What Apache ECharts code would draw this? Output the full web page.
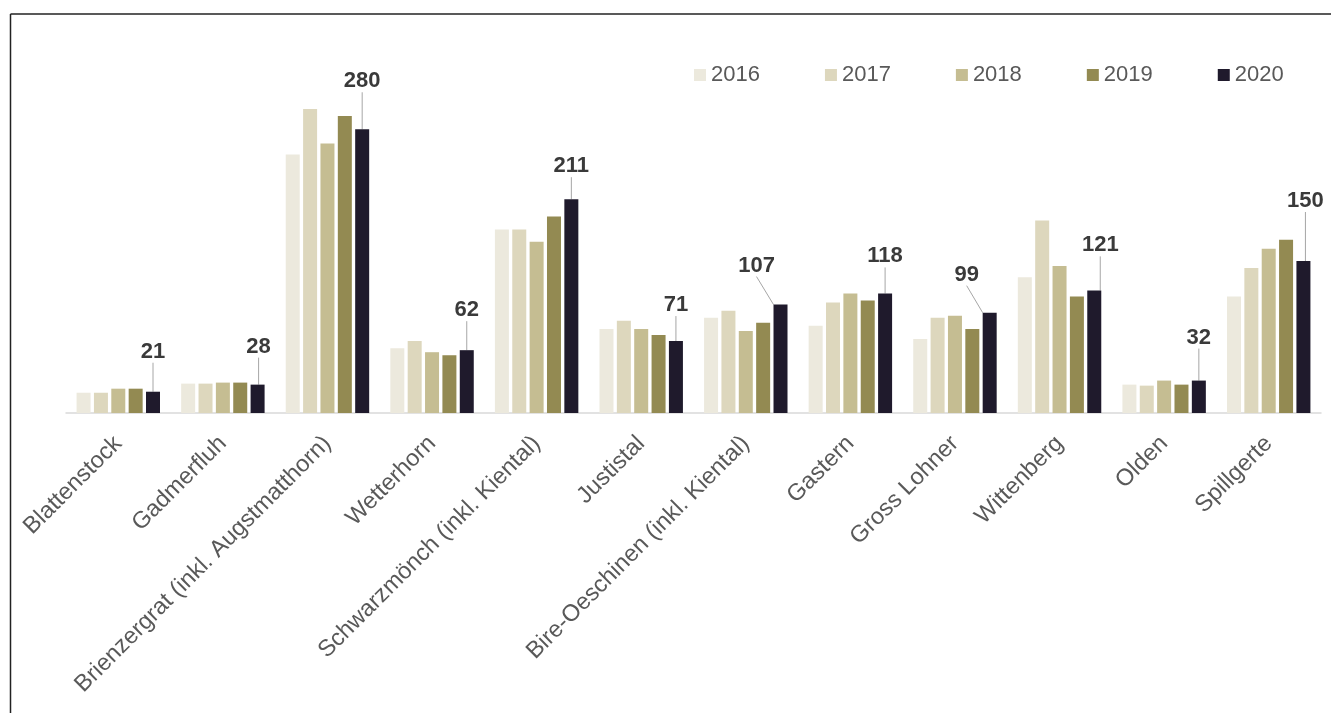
<!DOCTYPE html>
<html>
<head>
<meta charset="utf-8">
<script src="https://cdn.jsdelivr.net/npm/echarts@6/dist/echarts.min.js"></script>
<style>
html,body{margin:0;padding:0;background:#fff;}
#chart{width:1331px;height:713px;}
</style>
</head>
<body>
<div id="chart"></div>
<script>
const categories = ["Blattenstock","Gadmerfluh","Brienzergrat (inkl. Augstmatthorn)","Wetterhorn","Schwarzmönch (inkl. Kiental)","Justistal","Bire-Oeschinen (inkl. Kiental)","Gastern","Gross Lohner","Wittenberg","Olden","Spillgerte"];
const years = ["2016","2017","2018","2019","2020"];
const v2016 = [20, 29, 255, 64, 181, 83, 94, 86, 73, 134, 28, 115];
const v2017 = [20, 29, 301, 71, 181, 91, 101, 109, 94, 190, 27, 143];
const v2018 = [24, 30, 266, 60, 169, 83, 81, 118, 96, 145, 32, 162];
const v2019 = [24, 30, 293, 57, 194, 77, 89, 111, 83, 115, 28, 171];
const v2020 = [21, 28, 280, 62, 211, 71, 107, 118, 99, 121, 32, 150];

const colors = ["#ece9dd","#ddd7bd","#c5bd92","#938a52","#1f1a2c"];
// label offsets (layout only)
const labelShift = [[0,-24],[1,-22],[0,-32],[0,-24],[0,-17],[0,-20],[-24,-23],[0,-21],[-23,-22],[6,-29],[0,-27],[2,-44]];

const seriesValues = [v2016, v2017, v2018, v2019, v2020];
const chart = echarts.init(document.getElementById('chart'));
const series = seriesValues.map((vals, i) => {
  const s = {
    name: years[i],
    type: 'bar',
    data: vals,
    barWidth: 14,
    barGap: '24%',
    itemStyle: { color: colors[i] },
    emphasis: { disabled: true }
  };
  if (i === 4) {
    s.label = {
      show: true, position: 'top', distance: 5,
      fontFamily: 'Liberation Sans, Arial, sans-serif',
      fontSize: 22, fontWeight: 'bold', color: '#3a3a3a'
    };
    s.labelLine = { show: true, lineStyle: { color: '#a6a6a6', width: 1 } };
    s.labelLayout = function (p) {
      const sh = labelShift[p.dataIndex];
      return { dx: sh[0], dy: sh[1] };
    };
  }
  return s;
});

chart.setOption({
  animation: false,
  backgroundColor: '#fff',
  textStyle: { fontFamily: 'Liberation Sans, Arial, sans-serif' },
  legend: {
    data: years,
    top: 59,
    left: 689,
    itemWidth: 12,
    itemHeight: 12,
    itemGap: 65,
    icon: 'rect',
    textStyle: { fontSize: 22, color: '#595959', fontFamily: 'Liberation Sans, Arial, sans-serif' }
  },
  grid: { left: 66, right: 10, top: 109, bottom: 300, containLabel: false, outerBoundsMode: 'none' },
  xAxis: {
    type: 'category',
    data: categories,
    axisTick: { show: false },
    axisLine: { lineStyle: { color: '#d9d9d9', width: 1.5 } },
    axisLabel: {
      rotate: 45, interval: 0, margin: 27,
      fontSize: 23.5, color: '#595959',
      fontFamily: 'Liberation Sans, Arial, sans-serif'
    }
  },
  yAxis: { type: 'value', min: 0, max: 300, show: false, splitLine: { show: false } },
  graphic: [
    { type: 'line', shape: { x1: 10.5, y1: 14, x2: 1331, y2: 14 }, style: { stroke: '#222', lineWidth: 1.5 } },
    { type: 'line', shape: { x1: 10.5, y1: 14, x2: 10.5, y2: 713 }, style: { stroke: '#222', lineWidth: 1.5 } }
  ],
  series: series
});
</script>
</body>
</html>
